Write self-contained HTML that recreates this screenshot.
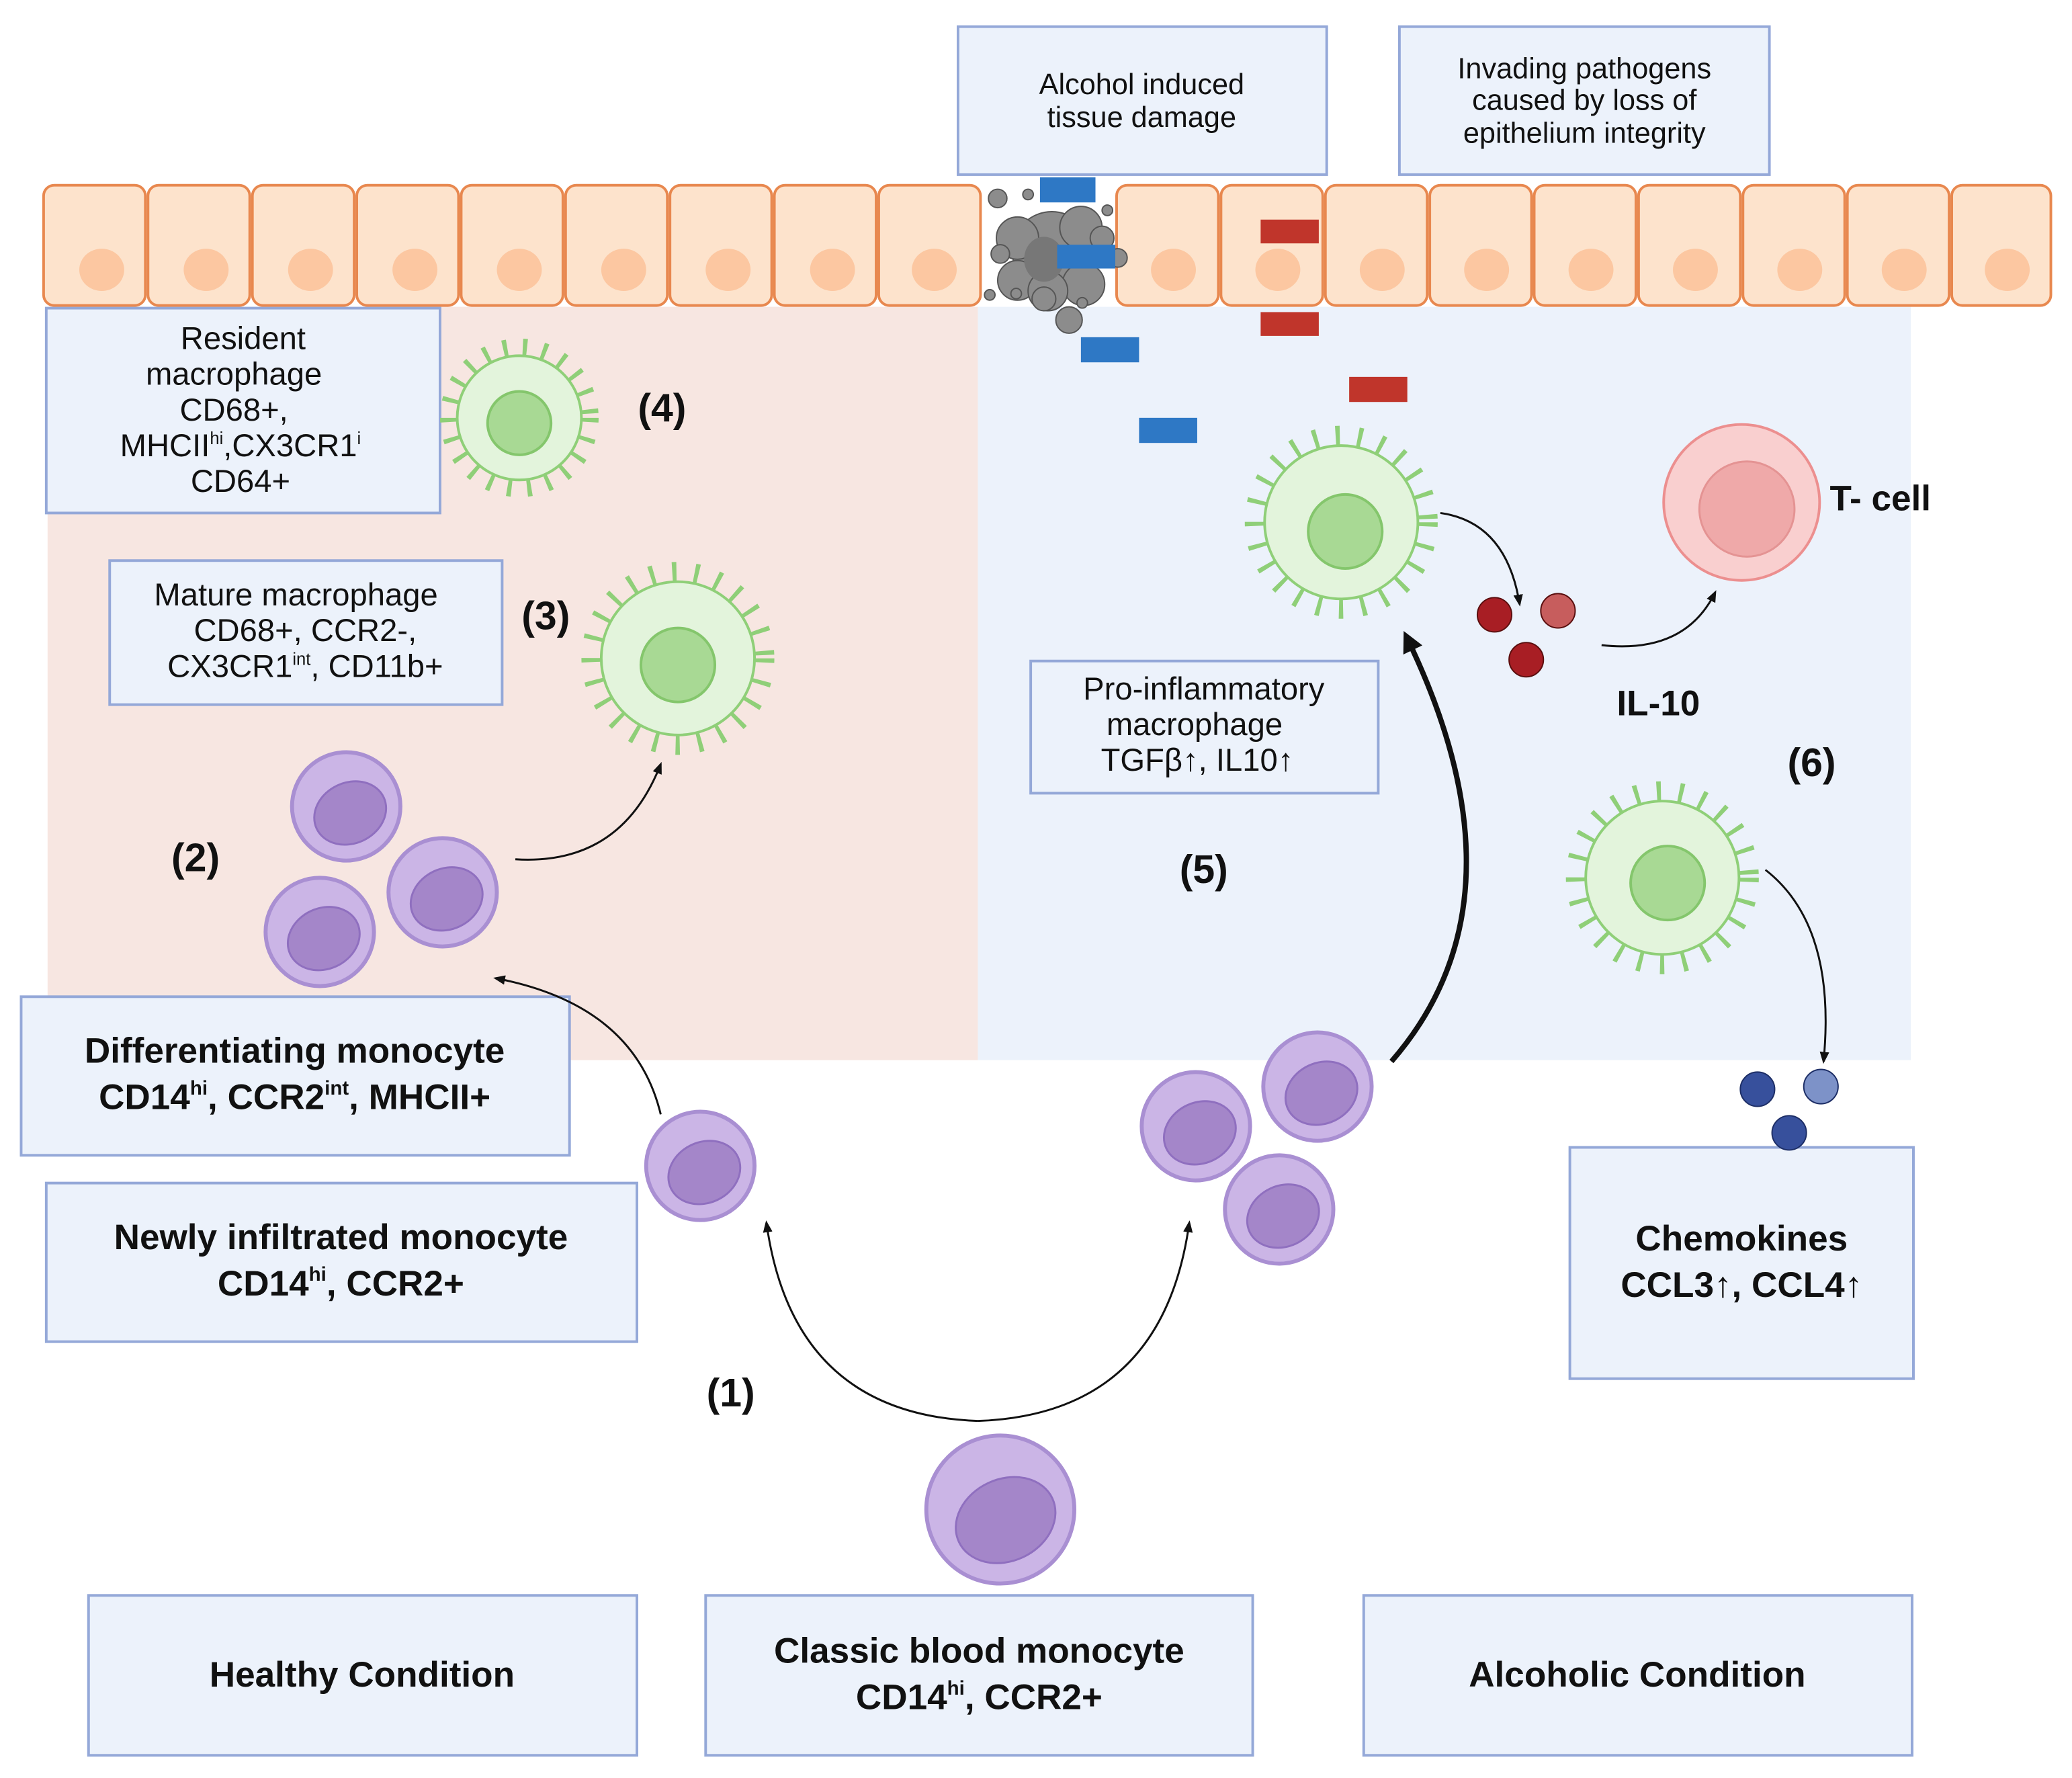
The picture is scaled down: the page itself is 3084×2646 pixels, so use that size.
<!DOCTYPE html>
<html><head><meta charset="utf-8"><style>
html,body{margin:0;padding:0;background:#fff}
svg{display:block}
text{font-family:"Liberation Sans",sans-serif;fill:#111}
.b{font-weight:bold}
</style></head><body>
<svg width="3084" height="2646" viewBox="0 0 1568 1345" xmlns="http://www.w3.org/2000/svg">
<defs>
<marker id="ar2" viewBox="0 0 10 10" refX="8" refY="5" markerWidth="6" markerHeight="6" orient="auto"><path d="M0,1 L10,5 L0,9 z" fill="#111"/></marker>
<marker id="ar3" viewBox="0 0 10 10" refX="6" refY="5" markerWidth="4" markerHeight="4" orient="auto"><path d="M0,0 L10,5 L0,10 z" fill="#111"/></marker>
</defs>
<rect x="0" y="0" width="1568" height="1345" fill="#fff"/>
<rect x="36" y="232" width="704" height="570" fill="#f7e6e1"/>
<rect x="740" y="232" width="706" height="570" fill="#ecf2fb"/>

<g fill="#fde3cc" stroke="#e8884f" stroke-width="2">
<rect x="33" y="140" width="77" height="91" rx="8"/><rect x="112" y="140" width="77" height="91" rx="8"/><rect x="191" y="140" width="77" height="91" rx="8"/><rect x="270" y="140" width="77" height="91" rx="8"/><rect x="349" y="140" width="77" height="91" rx="8"/><rect x="428" y="140" width="77" height="91" rx="8"/><rect x="507" y="140" width="77" height="91" rx="8"/><rect x="586" y="140" width="77" height="91" rx="8"/><rect x="665" y="140" width="77" height="91" rx="8"/>
<rect x="845" y="140" width="77" height="91" rx="8"/><rect x="924" y="140" width="77" height="91" rx="8"/><rect x="1003" y="140" width="77" height="91" rx="8"/><rect x="1082" y="140" width="77" height="91" rx="8"/><rect x="1161" y="140" width="77" height="91" rx="8"/><rect x="1240" y="140" width="77" height="91" rx="8"/><rect x="1319" y="140" width="77" height="91" rx="8"/><rect x="1398" y="140" width="77" height="91" rx="8"/><rect x="1477" y="140" width="75" height="91" rx="8"/>
</g>
<g fill="#fcc7a1">
<ellipse cx="77" cy="204" rx="17" ry="16"/><ellipse cx="156" cy="204" rx="17" ry="16"/><ellipse cx="235" cy="204" rx="17" ry="16"/><ellipse cx="314" cy="204" rx="17" ry="16"/><ellipse cx="393" cy="204" rx="17" ry="16"/><ellipse cx="472" cy="204" rx="17" ry="16"/><ellipse cx="551" cy="204" rx="17" ry="16"/><ellipse cx="630" cy="204" rx="17" ry="16"/><ellipse cx="707" cy="204" rx="17" ry="16"/>
<ellipse cx="888" cy="204" rx="17" ry="16"/><ellipse cx="967" cy="204" rx="17" ry="16"/><ellipse cx="1046" cy="204" rx="17" ry="16"/><ellipse cx="1125" cy="204" rx="17" ry="16"/><ellipse cx="1204" cy="204" rx="17" ry="16"/><ellipse cx="1283" cy="204" rx="17" ry="16"/><ellipse cx="1362" cy="204" rx="17" ry="16"/><ellipse cx="1441" cy="204" rx="17" ry="16"/><ellipse cx="1519" cy="204" rx="17" ry="16"/>
</g>
<g fill="#8c8c8c" stroke="#555" stroke-width="1">
<circle cx="796" cy="190" r="30"/><circle cx="770" cy="180" r="16"/><circle cx="818" cy="172" r="16"/><circle cx="770" cy="212" r="15"/><circle cx="820" cy="215" r="16"/><circle cx="793" cy="220" r="15"/>
<circle cx="755" cy="150" r="7"/><circle cx="778" cy="147" r="4"/><circle cx="757" cy="192" r="7"/><circle cx="834" cy="180" r="9"/><circle cx="846" cy="195" r="7"/><circle cx="838" cy="159" r="4"/><circle cx="790" cy="226" r="9"/><circle cx="809" cy="242" r="10"/><circle cx="769" cy="222" r="4"/><circle cx="819" cy="229" r="4"/><circle cx="749" cy="223" r="4"/>
</g>
<ellipse cx="790" cy="196" rx="15" ry="17" fill="#777"/>
<g fill="#2e78c5"><rect x="787" y="134" width="42" height="19"/><rect x="800" y="185" width="44" height="18"/><rect x="818" y="255" width="44" height="19"/><rect x="862" y="316" width="44" height="19"/></g>
<g fill="#c0352b"><rect x="954" y="166" width="44" height="18"/><rect x="954" y="236" width="44" height="18"/><rect x="1021" y="285" width="44" height="19"/></g>

<g fill="#ecf2fb" stroke="#94a8d8" stroke-width="2">
<rect x="725" y="20" width="279" height="112"/><rect x="1059" y="20" width="280" height="112"/>
<rect x="35" y="233" width="298" height="155"/><rect x="83" y="424" width="297" height="109"/>
<rect x="16" y="754" width="415" height="120"/><rect x="35" y="895" width="447" height="120"/>
<rect x="780" y="500" width="263" height="100"/><rect x="1188" y="868" width="260" height="175"/>
<rect x="67" y="1207" width="415" height="121"/><rect x="534" y="1207" width="414" height="121"/><rect x="1032" y="1207" width="415" height="121"/>
</g>
<g font-size="22" text-anchor="middle">
<text x="864" y="71">Alcohol induced</text><text x="864" y="96">tissue damage</text>
<text x="1199" y="59">Invading pathogens</text><text x="1199" y="83">caused by loss of</text><text x="1199" y="108">epithelium integrity</text>
</g>
<g font-size="24" text-anchor="middle">
<text x="184" y="264">Resident</text><text x="177" y="291">macrophage</text><text x="177" y="318">CD68+,</text>
<text x="182" y="345">MHCII<tspan font-size="13" dy="-9">hi</tspan><tspan dy="9">,CX3CR1</tspan><tspan font-size="13" dy="-9">i</tspan></text>
<text x="182" y="372">CD64+</text>
<text x="224" y="458">Mature macrophage</text><text x="231" y="485">CD68+, CCR2-,</text>
<text x="231" y="512">CX3CR1<tspan font-size="13" dy="-9">int</tspan><tspan dy="9">, CD11b+</tspan></text>
<text x="911" y="529">Pro-inflammatory</text><text x="904" y="556">macrophage</text><text x="906" y="583">TGFβ↑, IL10↑</text>
</g>
<g font-size="27" text-anchor="middle" class="b">
<text x="223" y="804" class="b">Differentiating monocyte</text>
<text x="223" y="839" class="b">CD14<tspan font-size="15" dy="-11">hi</tspan><tspan dy="11">, CCR2</tspan><tspan font-size="15" dy="-11">int</tspan><tspan dy="11">, MHCII+</tspan></text>
<text x="258" y="945" class="b">Newly infiltrated monocyte</text>
<text x="258" y="980" class="b">CD14<tspan font-size="15" dy="-11">hi</tspan><tspan dy="11">, CCR2+</tspan></text>
<text x="1318" y="946" class="b">Chemokines</text><text x="1318" y="981" class="b">CCL3↑, CCL4↑</text>
<text x="274" y="1276" class="b">Healthy Condition</text>
<text x="741" y="1258" class="b">Classic blood monocyte</text>
<text x="741" y="1293" class="b">CD14<tspan font-size="15" dy="-11">hi</tspan><tspan dy="11">, CCR2+</tspan></text>
<text x="1239" y="1276" class="b">Alcoholic Condition</text>
</g>
<g font-size="30" text-anchor="middle" class="b">
<text x="501" y="319" class="b">(4)</text><text x="413" y="476" class="b">(3)</text><text x="148" y="659" class="b">(2)</text>
<text x="911" y="668" class="b">(5)</text><text x="1371" y="587" class="b">(6)</text><text x="553" y="1064" class="b">(1)</text>
<text x="1255" y="541" class="b" font-size="27">IL-10</text>
<text x="1423" y="386" class="b" font-size="27">T- cell</text>
</g>

<g>
<circle cx="393" cy="316" r="50" fill="none" stroke="#8fcf78" stroke-width="20" stroke-dasharray="3 11"/>
<circle cx="393" cy="316" r="47" fill="#e3f4dc" stroke="#8fcf78" stroke-width="2"/>
<circle cx="393" cy="320" r="24" fill="#a8d994" stroke="#84c66c" stroke-width="2"/>
<circle cx="513" cy="498" r="62" fill="none" stroke="#8fcf78" stroke-width="22" stroke-dasharray="3 13"/>
<circle cx="513" cy="498" r="58" fill="#e3f4dc" stroke="#8fcf78" stroke-width="2"/>
<circle cx="513" cy="503" r="28" fill="#a8d994" stroke="#84c66c" stroke-width="2"/>
<circle cx="1015" cy="395" r="62" fill="none" stroke="#8fcf78" stroke-width="22" stroke-dasharray="3 13"/>
<circle cx="1015" cy="395" r="58" fill="#e3f4dc" stroke="#8fcf78" stroke-width="2"/>
<circle cx="1018" cy="402" r="28" fill="#a8d994" stroke="#84c66c" stroke-width="2"/>
<circle cx="1258" cy="664" r="62" fill="none" stroke="#8fcf78" stroke-width="22" stroke-dasharray="3 13"/>
<circle cx="1258" cy="664" r="58" fill="#e3f4dc" stroke="#8fcf78" stroke-width="2"/>
<circle cx="1262" cy="668" r="28" fill="#a8d994" stroke="#84c66c" stroke-width="2"/>
</g>
<g fill="#cbb5e6" stroke="#a98fd2" stroke-width="3">
<circle cx="262" cy="610" r="41"/><circle cx="335" cy="675" r="41"/><circle cx="242" cy="705" r="41"/>
<circle cx="530" cy="882" r="41"/><circle cx="905" cy="852" r="41"/><circle cx="997" cy="822" r="41"/><circle cx="968" cy="915" r="41"/>
<circle cx="757" cy="1142" r="56"/>
</g>
<g fill="#a486c9" stroke="#8f6fbf" stroke-width="1.5">
<ellipse cx="265" cy="615" rx="28" ry="23" transform="rotate(-25 265 615)"/><ellipse cx="338" cy="680" rx="28" ry="23" transform="rotate(-25 338 680)"/><ellipse cx="245" cy="710" rx="28" ry="23" transform="rotate(-25 245 710)"/>
<ellipse cx="533" cy="887" rx="28" ry="23" transform="rotate(-25 533 887)"/><ellipse cx="908" cy="857" rx="28" ry="23" transform="rotate(-25 908 857)"/><ellipse cx="1000" cy="827" rx="28" ry="23" transform="rotate(-25 1000 827)"/><ellipse cx="971" cy="920" rx="28" ry="23" transform="rotate(-25 971 920)"/>
<ellipse cx="761" cy="1150" rx="39" ry="31" transform="rotate(-25 761 1150)"/>
</g>
<circle cx="1318" cy="380" r="59" fill="#f9cfcf" stroke="#ec8f8f" stroke-width="2"/>
<circle cx="1322" cy="385" r="36" fill="#efa9a9" stroke="#e49393" stroke-width="1.5"/>
<g stroke="#5a0e0e" stroke-width="1"><circle cx="1131" cy="465" r="13" fill="#a81e24"/><circle cx="1179" cy="462" r="13" fill="#c75d5d"/><circle cx="1155" cy="499" r="13" fill="#a81e24"/></g>
<g stroke="#1d2e66" stroke-width="1"><circle cx="1330" cy="824" r="13" fill="#37509c"/><circle cx="1378" cy="822" r="13" fill="#7d92c8"/><circle cx="1354" cy="857" r="13" fill="#37509c"/></g>
<g fill="none" stroke="#111" stroke-width="1.5">
<path d="M390,650 Q470,655 500,578" marker-end="url(#ar2)"/>
<path d="M500,843 Q480,760 375,740" marker-end="url(#ar2)"/>
<path d="M740,1075 Q600,1070 580,925" marker-end="url(#ar2)"/>
<path d="M740,1075 Q880,1070 900,925" marker-end="url(#ar2)"/>
<path d="M1090,388 Q1140,395 1150,457" marker-end="url(#ar2)"/>
<path d="M1212,488 Q1275,495 1298,448" marker-end="url(#ar2)"/>
<path d="M1336,658 Q1390,700 1380,803" marker-end="url(#ar2)"/>
<path d="M1053,803 Q1160,680 1065,483" stroke-width="4" marker-end="url(#ar3)"/>
</g>
</svg>
</body></html>
